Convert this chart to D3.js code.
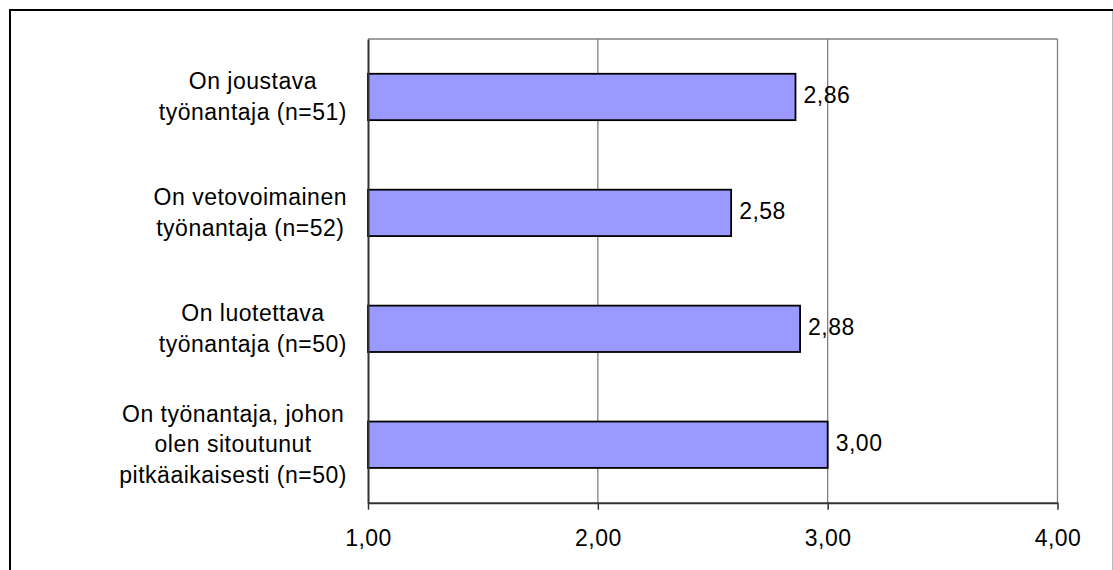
<!DOCTYPE html>
<html>
<head>
<meta charset="utf-8">
<script src="https://cdn.jsdelivr.net/npm/d3@7"></script>
<style>
  html, body { margin: 0; padding: 0; background: #fff; }
  svg { display: block; }
  text { font-family: "Liberation Sans", Arial, sans-serif; fill: #000; }
</style>
</head>
<body>
<svg id="chart" width="1113" height="570"></svg>
<script>
// Category labels (each entry is the list of wrapped lines), top to bottom
const categories = [
  ["On joustava", "työnantaja (n=51)"],
  ["On vetovoimainen", "työnantaja (n=52)"],
  ["On luotettava", "työnantaja (n=50)"],
  ["On työnantaja, johon", "olen sitoutunut", "pitkäaikaisesti (n=50)"]
];
const values = [2.86, 2.58, 2.88, 3.00];
const xTicks = [1, 2, 3, 4];
const xDomain = [1, 4];

const fmt = v => d3.format(".2f")(v).replace(".", ",");

const W = 1113, H = 570;
const FS = 23;
const LS = 0.5;
const plot = { left: 368, right: 1057.5, top: 39, bottom: 502.7 };

const svg = d3.select("#chart");

// outer frame
svg.append("line").attr("x1", 9).attr("x2", 1113).attr("y1", 10).attr("y2", 10)
  .attr("stroke", "#000").attr("stroke-width", 2);
svg.append("line").attr("x1", 10).attr("x2", 10).attr("y1", 9).attr("y2", H)
  .attr("stroke", "#000").attr("stroke-width", 2);
svg.append("line").attr("x1", 1112.5).attr("x2", 1112.5).attr("y1", 11).attr("y2", H)
  .attr("stroke", "#bbb").attr("stroke-width", 1);

const x = d3.scaleLinear().domain(xDomain).range([plot.left, plot.right]);
const y = d3.scaleBand()
  .domain(d3.range(categories.length))
  .range([plot.top, plot.bottom])
  .paddingInner(0.6)
  .paddingOuter(0.3);

// vertical gridlines (the last one doubles as the plot area's right edge)
svg.append("g")
  .selectAll("line")
  .data(xTicks.slice(1))
  .join("line")
  .attr("x1", d => x(d)).attr("x2", d => x(d))
  .attr("y1", plot.top).attr("y2", plot.bottom)
  .attr("stroke", "#808080").attr("stroke-width", 1.3);

// plot area top edge
svg.append("line")
  .attr("x1", plot.left).attr("x2", plot.right)
  .attr("y1", plot.top).attr("y2", plot.top)
  .attr("stroke", "#808080").attr("stroke-width", 1.5);

// bars
svg.append("g")
  .selectAll("rect")
  .data(values)
  .join("rect")
  .attr("x", x(xDomain[0]))
  .attr("y", (d, i) => y(i))
  .attr("width", d => x(d) - x(xDomain[0]))
  .attr("height", y.bandwidth())
  .attr("fill", "#9999FF")
  .attr("stroke", "#000")
  .attr("stroke-width", 1.8);

// value labels
svg.append("g")
  .selectAll("text")
  .data(values)
  .join("text")
  .attr("x", d => x(d) + 8)
  .attr("y", (d, i) => y(i) + y.bandwidth() / 2 + 6.5)
  .attr("font-size", FS)
  .attr("letter-spacing", LS)
  .text(d => fmt(d));

// x axis
const xAxis = d3.axisBottom(x)
  .tickValues(xTicks)
  .tickFormat(fmt)
  .tickSize(7)
  .tickSizeOuter(0)
  .tickPadding(20);

const gx = svg.append("g")
  .attr("transform", `translate(0,${plot.bottom})`)
  .call(xAxis);
gx.select(".domain").attr("stroke", "#333").attr("stroke-width", 2);
gx.selectAll(".tick line").attr("stroke", "#333").attr("stroke-width", 1.5);
gx.selectAll(".tick text")
  .attr("font-family", "Liberation Sans, Arial, sans-serif")
  .attr("font-size", FS)
  .attr("letter-spacing", LS)
  .attr("fill", "#000");

// y axis (line only)
const yAxis = d3.axisLeft(y).tickSize(0).tickFormat("");
const gy = svg.append("g")
  .attr("transform", `translate(${plot.left},0)`)
  .call(yAxis);
gy.select(".domain").attr("stroke", "#333").attr("stroke-width", 2);

// category labels: wrapped lines, centred on the widest line, right-aligned block
const labelRight = 347;
const lineH = 30.7;
const gl = svg.append("g");
categories.forEach((lines, i) => {
  const cy = y(i) + y.bandwidth() / 2;
  const t = gl.append("text")
    .attr("font-size", FS)
    .attr("letter-spacing", LS)
    .attr("text-anchor", "middle");
  lines.forEach((ln, j) => {
    t.append("tspan")
      .attr("y", cy + 7.5 + (j - (lines.length - 1) / 2) * lineH)
      .text(ln);
  });
  const maxW = d3.max(t.selectAll("tspan").nodes(), n => n.getComputedTextLength());
  t.selectAll("tspan").attr("x", labelRight - maxW / 2);
});
</script>
</body>
</html>
